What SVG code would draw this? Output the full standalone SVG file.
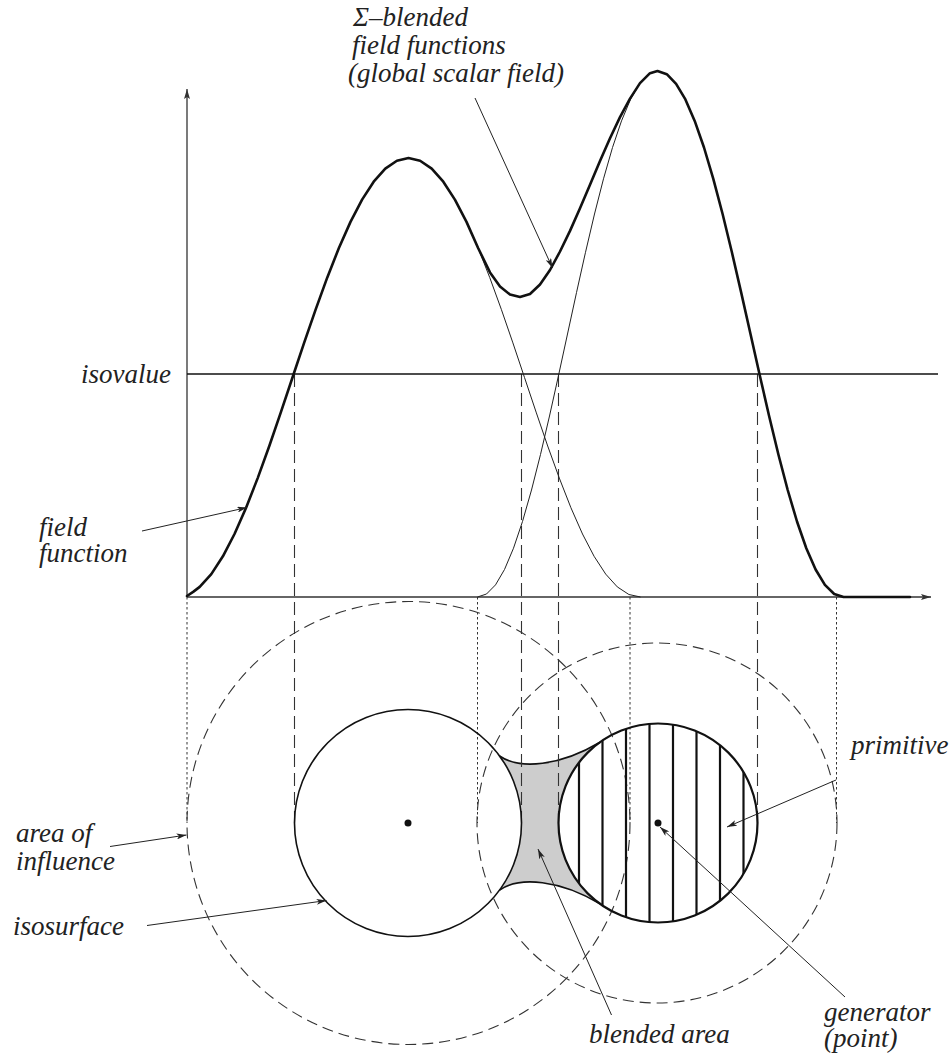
<svg xmlns="http://www.w3.org/2000/svg" width="952" height="1062" viewBox="0 0 952 1062">
<style>
.ax{fill:none;stroke:#333;stroke-width:1.3}
.thick{fill:none;stroke:#111;stroke-width:2.6;stroke-linejoin:round;stroke-linecap:round}
.thin{fill:none;stroke:#222;stroke-width:1}
.dash{fill:none;stroke:#333;stroke-width:1.1;stroke-dasharray:13 6}
.dot{fill:none;stroke:#333;stroke-width:1;stroke-dasharray:2.5 2.5}
.infl{fill:none;stroke:#333;stroke-width:1.1;stroke-dasharray:11 6}
.iso{fill:none;stroke:#111;stroke-width:1.6}
.hatch{stroke:#111;stroke-width:2.2}
.lead{fill:none;stroke:#222;stroke-width:1}
</style>
<defs>
<marker id="a" viewBox="0 0 10 6" markerWidth="10" markerHeight="6" refX="10" refY="3" orient="auto" markerUnits="userSpaceOnUse">
<path d="M0,0 L10,3 L0,6 L2.5,3 Z" fill="#222"/>
</marker>
<marker id="ah" viewBox="0 0 10 6" markerWidth="10" markerHeight="6" refX="10" refY="3" orient="auto" markerUnits="userSpaceOnUse">
<path d="M0,0 L10,3 L0,6 L2,3 Z" fill="#333"/>
</marker>
<clipPath id="rc"><circle cx="658" cy="823" r="99.5"/></clipPath>
</defs>

<g id="influence-areas">
<circle class="infl" cx="408.5" cy="823" r="221.5"/>
<circle class="infl" cx="657" cy="823" r="180"/>
</g>

<g id="blended-area">
<path d="M499.6,756 C520,770 560,766 600,742.2 A99.5,99.5 0 0 0 600,903.8 C560,880 520,876 499.6,890 A113.5,113.5 0 0 0 499.6,756 Z" fill="#cdcdcd" stroke="none"/>
<path d="M499.6,756 C520,770 560,766 600,742.2 M499.6,890 C520,876 560,880 600,903.8" fill="none" stroke="#111" stroke-width="1.6"/>
</g>

<g id="projection-lines">
<line class="dot" x1="187" y1="597" x2="187" y2="823"/>
<line class="dot" x1="477.5" y1="597" x2="477.5" y2="823"/>
<line class="dot" x1="630" y1="597" x2="630" y2="823"/>
<line class="dot" x1="836.5" y1="597" x2="836.5" y2="823"/>
<line class="dash" x1="294.5" y1="374" x2="294.5" y2="823"/>
<line class="dash" x1="521.5" y1="374" x2="521.5" y2="823"/>
<line class="dash" x1="558.5" y1="374" x2="558.5" y2="823"/>
<line class="dash" x1="757.5" y1="374" x2="757.5" y2="823"/>
</g>

<g id="axes">
<path class="ax" d="M187,597 L187,89" marker-end="url(#ah)"/>
<path class="ax" d="M187,597 L931,597" marker-end="url(#ah)"/>
</g>

<g id="isovalue-line">
<line class="iso" x1="187" y1="374" x2="938" y2="374"/>
</g>

<g id="field-functions">
<path class="thin" d="M454.9,199.6 L466.5,221.9 L478.1,248 L489.7,277.4 L501.3,309.3 L512.9,342.9 L524.5,377.5 L536.1,412.1 L547.7,446 L559.3,478.1 L570.9,507.7 L582.5,534 L594.1,556.3 L605.7,574.1 L617.3,586.9 L628.9,594.5 L640.5,597"/>
<path class="thin" d="M477.5,597 L486.5,594 L495.5,584.9 L504.5,569.5 L513.5,548.2 L522.5,521.5 L531.5,490 L540.5,454.5 L549.5,416 L558.5,375.5 L567.5,334 L576.5,292.6 L585.5,252.3 L594.5,214 L603.5,178.8 L612.5,147.5 L621.5,120.9 L630.5,99.4 L639.5,83.8 L648.5,74.2 L657.5,71"/>
</g>

<g id="global-field">
<path class="thick" d="M187,596 L193.5,591.6 L199.7,586.9 L211.3,574.1 L222.9,556.3 L234.5,534 L246.1,507.7 L257.7,478.1 L269.3,446 L280.9,412.1 L292.5,377.5 L304.1,342.9 L315.7,309.3 L327.3,277.4 L338.9,248 L350.5,221.9 L362.1,199.6 L373.7,181.7 L385.3,168.6 L396.9,160.7 L408.5,158 L420.1,160.7 L431.7,168.6 L443.3,181.7 L454.9,199.6 L466.5,221.9 L478.1,248 L490,272.4 L500,286.5 L510,294.6 L520,297 L530,294 L540,284.5 L550,270 L560,251.5 L570,230.9 L580,208.3 L590,184.7 L600,161 L610,138.2 L620,117.1 L630,98.6 L640,83.1 L650,73.2 L657.5,71 L666.8,74.2 L676.1,83.8 L685.4,99.4 L694.7,120.9 L704,147.5 L713.3,178.8 L722.6,214 L731.9,252.3 L741.2,292.6 L750.5,334 L759.8,375.5 L769.1,416 L778.4,454.5 L787.7,490 L797,521.5 L806.3,548.2 L815.6,569.5 L824.9,584.9 L834.2,594 L843.5,597 L910,597"/>
</g>

<g id="isosurface-left">
<circle cx="408" cy="823" r="113.5" fill="none" stroke="#111" stroke-width="1.6"/>
<circle cx="408" cy="823" r="3.5" fill="#111"/>
</g>

<g id="primitive-right">
<g clip-path="url(#rc)">
<line class="hatch" x1="579" y1="700" x2="579" y2="950"/>
<line class="hatch" x1="602.5" y1="700" x2="602.5" y2="950"/>
<line class="hatch" x1="626" y1="700" x2="626" y2="950"/>
<line class="hatch" x1="649.5" y1="700" x2="649.5" y2="950"/>
<line class="hatch" x1="673" y1="700" x2="673" y2="950"/>
<line class="hatch" x1="696.5" y1="700" x2="696.5" y2="950"/>
<line class="hatch" x1="720" y1="700" x2="720" y2="950"/>
<line class="hatch" x1="743.5" y1="700" x2="743.5" y2="950"/>
</g>
<circle cx="658" cy="823" r="99.5" fill="none" stroke="#111" stroke-width="2.2"/>
<circle cx="658" cy="823" r="3.5" fill="#111"/>
</g>

<g id="connectors">
<path class="lead" d="M475,98 L552.5,268" marker-end="url(#a)"/>
<path class="lead" d="M142,531 L247,507.5" marker-end="url(#a)"/>
<path class="lead" d="M110,846.5 L186.5,835" marker-end="url(#a)"/>
<path class="lead" d="M147,925.5 L326.5,900.5" marker-end="url(#a)"/>
<path class="lead" d="M836,780 L727,827" marker-end="url(#a)"/>
<path class="lead" d="M845,997 L660,827" marker-end="url(#a)"/>
<path class="lead" d="M611.5,1015 L538,849" marker-end="url(#a)"/>
</g>

<g id="labels" font-family="Liberation Serif, Times New Roman, serif" font-style="italic" font-size="27" fill="#222">
<text x="353" y="26">Σ–blended</text>
<text x="352" y="53.5">field functions</text>
<text x="348" y="82">(global scalar field)</text>
<text x="81" y="383">isovalue</text>
<text x="39" y="536">field</text>
<text x="39" y="562">function</text>
<text x="16" y="842">area of</text>
<text x="16" y="870">influence</text>
<text x="13" y="935">isosurface</text>
<text x="589" y="1043">blended area</text>
<text x="824" y="1021">generator</text>
<text x="824" y="1047">(point)</text>
<text x="851" y="754">primitive</text>
</g>
</svg>
